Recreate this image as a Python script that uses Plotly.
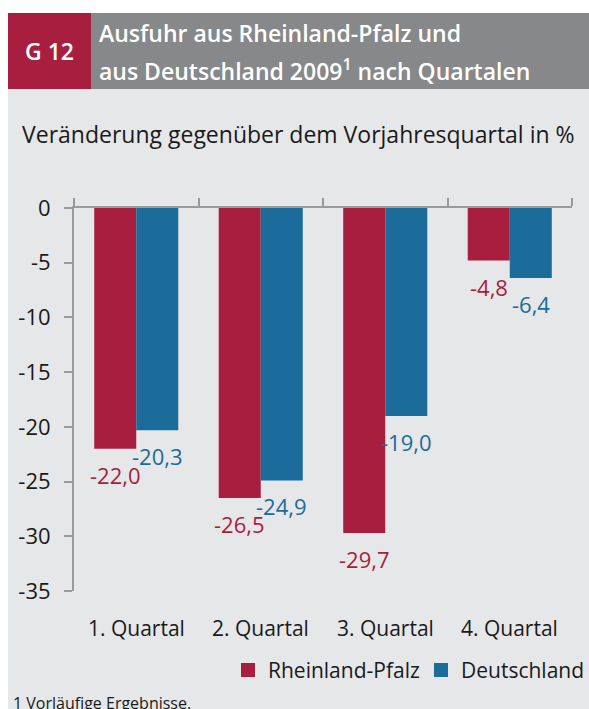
import plotly.graph_objects as go

categories = ["1. Quartal", "2. Quartal", "3. Quartal", "4. Quartal"]
rlp_values = [-22.0, -26.5, -29.7, -4.8]
de_values = [-20.3, -24.9, -19.0, -6.4]
series_names = ["Rheinland-Pfalz", "Deutschland"]
y_ticks = [0, -5, -10, -15, -20, -25, -30, -35]

RED = "#a81e3e"
BLUE = "#1b6b9b"
HEAD_GRAY = "#87888a"
BG = "#e6e7e9"
AXIS = "#9a9a9a"
TXT = "#1a1a1a"
FONT = "Open Sans"

W, H = 589, 709
L, R, T, B = 74, 17, 208, 118
PW, PH = W - L - R, H - T - B


def fx(px):
    return (px - L) / PW


def fy(py):
    return (H - B - py) / PH


fig = go.Figure()
fig.add_trace(go.Bar(x=categories, y=rlp_values, name=series_names[0],
                     marker=dict(color=RED, line=dict(width=0))))
fig.add_trace(go.Bar(x=categories, y=de_values, name=series_names[1],
                     marker=dict(color=BLUE, line=dict(width=0))))


def fmt(v):
    return f"{v:.1f}".replace(".", ",")


annotations = []
half = PW / len(categories) * (1 - 0.325) / 4
for vals, col, sh in [(rlp_values, RED, -half), (de_values, BLUE, half)]:
    for c, v in zip(categories, vals):
        annotations.append(dict(x=c, y=v, xref="x", yref="y", text=fmt(v),
                                showarrow=False, xshift=sh, yshift=-26,
                                yanchor="middle", xanchor="center",
                                font=dict(family=FONT, size=22, color=col)))
for c in categories:
    annotations.append(dict(x=c, y=fy(628), xref="x", yref="paper", text=c,
                            showarrow=False, yanchor="middle",
                            font=dict(family=FONT, size=21, color=TXT)))

annotations += [
    dict(x=fx(49), y=fy(51), xref="paper", yref="paper", text="G 12",
         showarrow=False, xanchor="center", yanchor="middle",
         font=dict(family=FONT, size=23, color="white", weight=600)),
    dict(x=fx(97), y=fy(33), xref="paper", yref="paper",
         text="Ausfuhr aus Rheinland-Pfalz und",
         showarrow=False, xanchor="left", yanchor="middle",
         font=dict(family=FONT, size=23, color="white", weight=600)),
    dict(x=fx(97), y=fy(70), xref="paper", yref="paper",
         text="aus Deutschland 2009<sup>1</sup> nach Quartalen",
         showarrow=False, xanchor="left", yanchor="middle",
         font=dict(family=FONT, size=23, color="white", weight=600)),
    dict(x=fx(20), y=fy(134), xref="paper", yref="paper",
         text="Veränderung gegenüber dem Vorjahresquartal in %",
         showarrow=False, xanchor="left", yanchor="middle",
         font=dict(family=FONT, size=23, color=TXT)),
    dict(x=fx(11), y=fy(703), xref="paper", yref="paper",
         text="1 Vorläufige Ergebnisse.",
         showarrow=False, xanchor="left", yanchor="middle",
         font=dict(family=FONT, size=16, color=TXT)),
]

shapes = [
    dict(type="rect", xref="paper", yref="paper", x0=fx(8), x1=fx(W),
         y0=fy(89), y1=fy(H), fillcolor=BG, line=dict(width=0), layer="below"),
    dict(type="rect", xref="paper", yref="paper", x0=fx(91), x1=fx(W),
         y0=fy(13), y1=fy(89), fillcolor=HEAD_GRAY, line=dict(width=0), layer="below"),
    dict(type="rect", xref="paper", yref="paper", x0=fx(8), x1=fx(91),
         y0=fy(13), y1=fy(89), fillcolor=RED, line=dict(width=0), layer="below"),
]

# legend drawn as swatches + labels (series names from the data lists)
legend_items = [(series_names[0], RED, 241, 266), (series_names[1], BLUE, 434, 459)]
LEG_Y, SW = 670, 14
for name, col, sx, tx in legend_items:
    shapes.append(dict(type="rect", xref="paper", yref="paper",
                       x0=fx(sx), x1=fx(sx + SW), y0=fy(LEG_Y - SW / 2),
                       y1=fy(LEG_Y + SW / 2), fillcolor=col, line=dict(width=0)))
    annotations.append(dict(x=fx(tx), y=fy(LEG_Y), xref="paper", yref="paper",
                            text=name, showarrow=False, xanchor="left",
                            yanchor="middle",
                            font=dict(family=FONT, size=21, color=TXT)))

fig.update_layout(
    width=W, height=H, autosize=False,
    margin=dict(l=L, r=R, t=T, b=B, pad=0),
    paper_bgcolor="white", plot_bgcolor="rgba(0,0,0,0)",
    barmode="group", bargap=0.325, bargroupgap=0,
    font=dict(family=FONT, size=21, color=TXT),
    showlegend=False,
    annotations=annotations,
    shapes=shapes,
    xaxis=dict(type="category", side="top", showline=True, linecolor=AXIS,
               linewidth=2, ticks="outside", tickson="boundaries", ticklen=8,
               tickwidth=2, tickcolor=AXIS, showticklabels=False,
               showgrid=False, zeroline=False, fixedrange=True),
    yaxis=dict(range=[-35, 0], showline=True, linecolor=AXIS, linewidth=2,
               ticks="outside", ticklen=8, tickwidth=2, tickcolor=AXIS,
               tickvals=y_ticks, ticktext=[str(v) for v in y_ticks],
               showgrid=False, zeroline=False, ticklabelstandoff=9,
               fixedrange=True,
               tickfont=dict(family=FONT, size=22, color=TXT)),
)

post = (
    "document.documentElement.style.overflow='hidden';"
    "document.body.style.overflow='hidden';"
    "document.body.style.margin='0';"
)

fig.write_html("out.html", config={"displayModeBar": False},
               post_script=post)
